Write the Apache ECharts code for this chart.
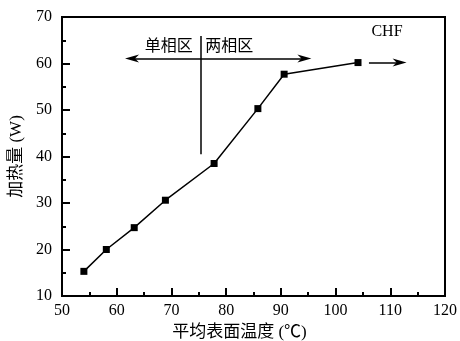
<!DOCTYPE html>
<html><head><meta charset="utf-8">
<script src="https://cdn.jsdelivr.net/npm/echarts@6/dist/echarts.min.js"></script>
<style>html,body{margin:0;padding:0;background:#fff}#c{width:460px;height:341px}</style>
</head><body><div id="c"></div>
<script>
// Data
var temps = [54.0, 58.1, 63.2, 68.9, 77.8, 85.8, 90.6, 104.1];
var heat  = [15.3, 20.0, 24.7, 30.6, 38.5, 50.3, 57.7, 60.2];
var xTicks = [50, 60, 70, 80, 90, 100, 110, 120];
var yTicks = [10, 20, 30, 40, 50, 60, 70];
// Annotations (data coordinates)
var dividerX = 75.3, dividerTop = 65.9, dividerBottom = 40.5;
var regionArrowY = 61.1, regionArrowLeft = 62.8, regionArrowRight = 94.3;
var chfArrowY = 60.2, chfArrowFrom = 106.1, chfArrowTo = 111.7;
var labelSingle = ['单相区', 73.9, 63.5];
var labelTwo = ['两相区', 76.2, 63.5];
var labelCHF = ['CHF', 109.4, 66.8];

var FONT = "'Liberation Serif', 'Noto Sans CJK SC', serif";
var arrowPath = 'path://M5,0 L10,14 L5,10 L0,14 Z';

var chart = echarts.init(document.getElementById('c'), null, {renderer: 'canvas'});
var pts = temps.map(function (t, i) { return [t, heat[i]]; });

chart.setOption({
  animation: false,
  backgroundColor: '#fff',
  grid: {left: 62, right: 15, top: 17, bottom: 45, outerBoundsMode: 'none', containLabel: false,
         show: true, borderColor: '#000', borderWidth: 2},
  xAxis: {
    type: 'value', min: xTicks[0], max: xTicks[xTicks.length - 1], interval: 10,
    name: '平均表面温度 (℃)', nameLocation: 'middle', nameGap: 24,
    nameTextStyle: {fontFamily: FONT, fontSize: 17, color: '#000', padding: [0, 28, 0, 0]},
    axisLine: {lineStyle: {color: '#000', width: 2}},
    axisTick: {inside: true, length: 8, lineStyle: {width: 2}},
    minorTick: {show: true, splitNumber: 2, length: 4, lineStyle: {color: '#000', width: 2}},
    axisLabel: {fontFamily: FONT, fontSize: 16, color: '#000', margin: 7},
    splitLine: {show: false}
  },
  yAxis: {
    type: 'value', min: yTicks[0], max: yTicks[yTicks.length - 1], interval: 10,
    name: '加热量 (W)', nameLocation: 'middle', nameGap: 35,
    nameTextStyle: {fontFamily: FONT, fontSize: 17, color: '#000'},
    axisLine: {show: true, lineStyle: {color: '#000', width: 2}},
    axisTick: {show: true, inside: true, length: 8, lineStyle: {width: 2}},
    minorTick: {show: true, splitNumber: 2, length: 4, lineStyle: {color: '#000', width: 2}},
    axisLabel: {fontFamily: FONT, fontSize: 16, color: '#000', margin: 10},
    splitLine: {show: false}
  },
  series: [{
    type: 'line',
    data: pts,
    symbol: 'rect', symbolSize: 7,
    itemStyle: {color: '#000'},
    lineStyle: {color: '#000', width: 1.5},
    markLine: {
      silent: true,
      animation: false,
      label: {show: false},
      lineStyle: {color: '#000', width: 1.5, type: 'solid'},
      symbolSize: [8, 14],
      data: [
        [{coord: [dividerX, dividerTop], symbol: 'none'}, {coord: [dividerX, dividerBottom], symbol: 'none'}],
        [{coord: [regionArrowLeft, regionArrowY], symbol: arrowPath}, {coord: [regionArrowRight, regionArrowY], symbol: arrowPath}],
        [{coord: [chfArrowFrom, chfArrowY], symbol: 'none'}, {coord: [chfArrowTo, chfArrowY], symbol: arrowPath}]
      ]
    },
    markPoint: {
      silent: true,
      symbol: 'circle', symbolSize: 0,
      data: [
        {coord: [labelSingle[1], labelSingle[2]], label: {show: true, formatter: labelSingle[0], position: 'left', distance: 0, fontFamily: FONT, fontSize: 16, color: '#000'}},
        {coord: [labelTwo[1], labelTwo[2]], label: {show: true, formatter: labelTwo[0], position: 'right', distance: 0, fontFamily: FONT, fontSize: 16, color: '#000'}},
        {coord: [labelCHF[1], labelCHF[2]], label: {show: true, formatter: labelCHF[0], position: 'inside', fontFamily: FONT, fontSize: 16, color: '#000'}}
      ]
    }
  }]
});
</script></body></html>
